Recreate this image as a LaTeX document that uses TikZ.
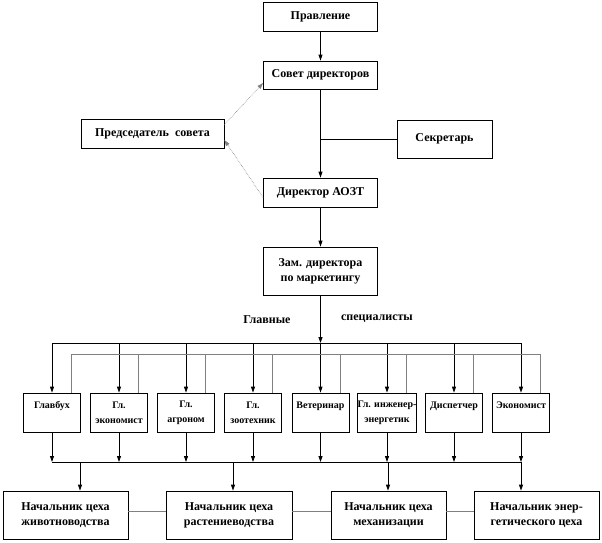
\documentclass[tikz,border=0pt]{standalone}
\usepackage{fontspec}
\setmainfont{Liberation Serif}
\usetikzlibrary{arrows.meta}
\begin{document}
\begin{tikzpicture}[x=1pt,y=-1pt,
  box/.style={draw, line width=0.8pt, inner sep=1pt, align=center, font=\bfseries\fontsize{12}{15}\selectfont},
  sbox/.style={draw, line width=0.8pt, inner sep=0pt, align=center, minimum width=57pt, minimum height=39pt, font=\bfseries\fontsize{10}{15}\selectfont},
  lbl/.style={inner sep=0pt, font=\bfseries\fontsize{12}{15}\selectfont},
  arr/.style={line width=0.8pt, -{Triangle[length=6pt,width=4pt]}},
  ln/.style={line width=0.8pt},
  gry/.style={line width=0.8pt, draw=gray},
  dotarr/.style={line width=0.6pt, draw=gray, densely dotted, -{Triangle[length=6pt,width=4pt,fill=gray]}}
]
\useasboundingbox (0,0) rectangle (602,542);

% top part
\node[box, minimum width=114pt, minimum height=29pt] (prav) at (320.5,16.5) {Правление};
\node[box, minimum width=114pt, minimum height=28pt] (sovet) at (320.5,75) {Совет директоров};
\node[box, minimum width=143pt, minimum height=29pt] (pred) at (152.5,133.5) {Председатель\ \ совета};
\node[box, minimum width=95pt, minimum height=38pt] (sekr) at (444.5,139) {Секретарь};
\node[box, minimum width=114pt, minimum height=29pt] (dir) at (320.5,192.5) {Директор АОЗТ};
\node[box, minimum width=114pt, minimum height=48pt] (zam) at (320.5,271) {Зам. директора\\по маркетингу};
\node[lbl] (glav) at (267,320) {Главные};
\node[lbl] (spec) at (377,319) {специалисты};

\draw[arr] (prav) -- (sovet);
\draw[arr] (sovet) -- (dir);
\draw[arr] (dir) -- (zam);
\draw[ln] (sekr.west) -- (sekr.west -| sovet.south);
\draw[dotarr] ([yshift=-6pt]pred.north east) -- ([yshift=-8pt]sovet.west);
\draw[dotarr] ([yshift=-5pt]dir.west) -- ([yshift=-6.5pt]pred.east);

% buses
\coordinate (tb) at (0,343);
\coordinate (gb) at (0,354);
\coordinate (lb) at (0,462);

% middle boxes
\node[sbox] (m1) at (52,412.5) {Главбух\\\mbox{}};
\node[sbox] (m2) at (119,412.5) {Гл.\\экономист};
\node[sbox] (m3) at (186,412.5) {Гл.\\агроном};
\node[sbox] (m4) at (253,412.5) {Гл.\\зоотехник};
\node[sbox] (m5) at (320.5,412.5) {Ветеринар\\\mbox{}};
\node[sbox] (m6) at (387,412.5) {Гл. инженер-\\энергетик};
\node[sbox] (m7) at (454,412.5) {Диспетчер\\\mbox{}};
\node[sbox] (m8) at (521,412.5) {Экономист\\\mbox{}};

\draw[arr] (zam) -- (zam.south |- tb);
\draw[ln] (m1.north |- tb) -- (m8.north |- tb);
\foreach \i in {1,...,8} {
  \draw[arr] (m\i.north |- tb) -- (m\i.north);
  \coordinate (g\i) at ([xshift=19.5pt]m\i.north);
  \draw[gry] (g\i |- gb) -- (g\i);
  \draw[arr] (m\i) -- (m\i.south |- lb);
}
\draw[gry] (g1 |- gb) -- (g8 |- gb);
\draw[ln] (m1.south |- lb) -- (m8.south |- lb);

% bottom boxes
\node[box, minimum width=125pt, minimum height=48pt] (b1) at (65.5,515) {Начальник цеха\\животноводства};
\node[box, minimum width=126pt, minimum height=48pt] (b2) at (229,515) {Начальник цеха\\растениеводства};
\node[box, minimum width=115pt, minimum height=48pt] (b3) at (388.5,515) {Начальник цеха\\механизации};
\node[box, minimum width=125pt, minimum height=48pt] (b4) at (536.5,515) {Начальник энер-\\гетического цеха};

\coordinate (l1) at (80,462);
\coordinate (l2) at (233,462);
\coordinate (l3) at (388,462);
\coordinate (l4) at (521,462);
\draw[arr] (l1) -- (l1 |- b1.north);
\draw[arr] (l2) -- (l2 |- b2.north);
\draw[arr] (l3) -- (l3 |- b3.north);
\draw[arr] (l4) -- (l4 |- b4.north);

\draw[gry] ([yshift=4pt]b1.east) -- ([yshift=4pt]b2.west);
\draw[gry] ([yshift=4pt]b2.east) -- ([yshift=4pt]b3.west);
\draw[gry] ([yshift=4pt]b3.east) -- ([yshift=4pt]b4.west);
\end{tikzpicture}
\end{document}
